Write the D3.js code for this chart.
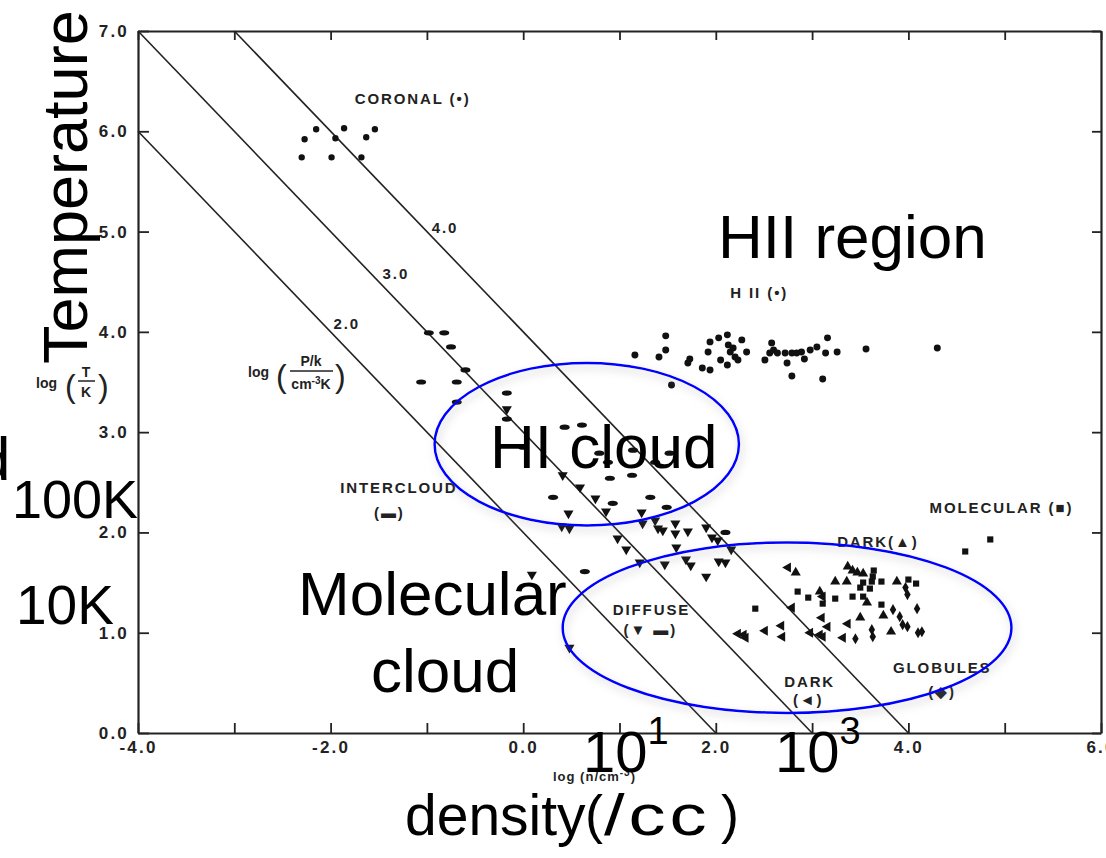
<!DOCTYPE html>
<html>
<head>
<meta charset="utf-8">
<script src="https://cdn.jsdelivr.net/npm/d3@7"></script>
<style>
  html, body { margin: 0; padding: 0; background: #fff; }
  svg { display: block; }
  .scan text { font-family: "Liberation Sans", Arial, sans-serif; font-weight: bold; fill: #222; }
  .big { font-family: "Liberation Sans", Arial, sans-serif; fill: #000; }
</style>
</head>
<body>
<svg id="chart"></svg>
<script>
// ---- data (log n, log T) ----
const xTicks = [-4, -3, -2, -1, 0, 1, 2, 3, 4, 5, 6];
const yTicks = [0, 1, 2, 3, 4, 5, 6, 7];
const isobars = [2, 3, 4];   // log(P/k)

const coronal = [[-2.27,5.92],[-2.15,6.02],[-1.95,5.93],[-1.86,6.03],[-1.63,5.94],[-1.54,6.02],
  [-2.30,5.74],[-1.99,5.74],[-1.68,5.74]];

const hii = [[1.16,3.77],[1.41,3.75],[1.48,3.82],[1.48,3.96],[1.73,3.73],[1.71,3.69],[1.86,3.64],
  [1.94,3.62],[1.92,3.80],[1.94,3.90],[2.03,3.94],[2.12,3.97],[2.13,3.87],[2.05,3.72],[2.12,3.67],
  [2.15,3.80],[2.20,3.75],[2.23,3.72],[2.27,3.92],[2.32,3.80],[2.18,3.84],[2.51,3.72],[2.56,3.79],
  [2.58,3.89],[2.60,3.82],[2.64,3.79],[2.72,3.79],[2.74,3.69],[2.79,3.79],[2.84,3.79],[2.89,3.80],
  [2.92,3.73],[2.98,3.82],[3.05,3.85],[3.16,3.94],[3.14,3.79],[3.26,3.80],[2.79,3.56],[3.11,3.53],
  [1.54,3.47],[3.56,3.83],[4.30,3.84]];

const intercloud = [[-0.98,3.99],[-0.82,3.99],[-0.75,3.85],[-0.60,3.62],[-1.06,3.50],[-0.69,3.50],
  [-0.69,3.30],[-0.17,3.39],[-0.17,3.13],[0.00,2.85],[0.43,3.05],[0.61,3.07]];

const diffuseDash = [[0.79,2.79],[1.14,2.82],[1.52,2.79],[0.88,2.70],[1.37,2.70],[0.90,2.54],
  [1.13,2.57],[0.31,2.35],[0.93,2.29],[1.32,2.35],[1.49,2.25],[2.10,2.00],[0.64,1.61]];

const diffuseTri = [[-0.17,3.23],[0.41,2.57],[0.59,2.45],[0.75,2.34],[0.86,2.21],[0.47,2.19],
  [0.40,2.06],[0.48,2.04],[0.98,1.94],[1.07,1.83],[1.23,2.20],[1.24,2.09],[1.37,2.12],[1.40,2.04],
  [1.45,2.02],[1.58,2.09],[1.58,1.99],[1.71,2.01],[1.59,1.85],[1.90,2.05],[1.96,1.95],[2.02,1.92],
  [2.16,1.83],[1.21,1.70],[1.47,1.68],[1.69,1.73],[1.74,1.67],[2.03,1.71],[2.10,1.70],[1.90,1.56],
  [0.09,1.58],[0.48,0.85]];

const darkUp = [[2.83,1.60],[3.37,1.66],[3.42,1.62],[3.47,1.60],[3.53,1.59],[3.24,1.51],[3.36,1.51],
  [3.88,1.51],[3.08,1.41],[3.57,1.30],[3.74,1.17],[3.50,1.15],[3.82,1.01]];

const darkLeft = [[2.75,1.65],[3.11,1.36],[2.79,1.25],[3.37,1.09],[3.10,1.15],[3.16,1.06],[2.68,1.07],
  [2.51,1.02],[2.69,0.96],[2.23,0.99],[2.29,0.98],[2.31,0.95],[2.98,1.00],[3.08,0.98],[3.11,0.96],
  [3.32,0.95]];

const globules = [[3.97,1.45],[3.99,1.38],[3.84,1.23],[4.09,1.24],[3.91,1.16],[3.94,1.08],[3.99,1.06],
  [3.45,0.94],[3.62,1.03],[3.63,0.96],[4.10,1.00],[4.14,1.01]];

const molecular = [[3.64,1.62],[3.63,1.56],[3.62,1.51],[3.53,1.50],[3.72,1.51],[4.00,1.53],[4.08,1.49],
  [2.85,1.41],[2.96,1.35],[3.24,1.34],[3.11,1.29],[3.42,1.36],[3.50,1.45],[3.60,1.44],[3.53,1.36],
  [2.41,1.24],[3.72,1.28],[4.59,1.81],[4.85,1.93]];

// blue ellipses drawn over the figure: [cx, cy, rx, ry] in data units
const ellipses = [[0.66, 2.88, 1.58, 0.81], [2.74, 1.05, 2.33, 0.85]];

// ---- layout ----
const width = 1106, height = 858;
const svg = d3.select('#chart').attr('width', width).attr('height', height);

const xscale = d3.scaleLinear().domain([-4, 6]).range([138, 1101]);
const yscale = d3.scaleLinear().domain([0, 7]).range([733, 31]);

const defs = svg.append('defs');
const shadow = defs.append('filter').attr('id', 'shadow')
  .attr('x', '-20%').attr('y', '-20%').attr('width', '140%').attr('height', '150%');
shadow.append('feDropShadow').attr('dx', 2).attr('dy', 4).attr('stdDeviation', 4)
  .attr('flood-color', '#888').attr('flood-opacity', 0.45);

const scan = svg.append('g').attr('class', 'scan');

// frame + axes
const fmt = d => d % 2 === 0 ? d.toFixed(1) : '';
const xaxis = scan.append('g').attr('transform', `translate(0, ${yscale(0)})`)
  .call(d3.axisBottom(xscale).tickValues(xTicks).tickFormat(fmt).tickSize(-10).tickSizeOuter(0).tickPadding(4));
const xaxisTop = scan.append('g').attr('transform', `translate(0, ${yscale(7)})`)
  .call(d3.axisTop(xscale).tickValues(xTicks).tickFormat('').tickSize(-9).tickSizeOuter(0));
const yaxis = scan.append('g').attr('transform', `translate(${xscale(-4)}, 0)`)
  .call(d3.axisLeft(yscale).tickValues(yTicks).tickFormat(d => d.toFixed(1)).tickSize(-11).tickSizeOuter(0).tickPadding(9));
const yaxisRight = scan.append('g').attr('transform', `translate(${xscale(6)}, 0)`)
  .call(d3.axisRight(yscale).tickValues(yTicks).tickFormat('').tickSize(-9).tickSizeOuter(0));

[xaxis, xaxisTop, yaxis, yaxisRight].forEach(g => {
  g.attr('font-size', null).attr('font-family', null);
  g.select('.domain').attr('stroke', '#222').attr('stroke-width', 2.2);
  g.selectAll('.tick line').attr('stroke', '#222').attr('stroke-width', 1.8);
  g.selectAll('.tick text')
    .style('font-size', '17px').style('letter-spacing', '2.2px')
    .style('font-family', '"Liberation Sans", Arial, sans-serif').style('font-weight', 'bold').attr('fill', '#222');
});
xaxis.selectAll('.tick text').attr('dy', '0.95em');

// isobars log T = log(P/k) - log n, clipped to the box
scan.selectAll('line.iso')
  .data(isobars)
  .enter()
  .append('line')
  .attr('class', 'iso')
  .attr('x1', p => xscale(Math.max(-4, p - 7)))
  .attr('y1', p => yscale(Math.min(7, p + 4)))
  .attr('x2', p => xscale(p))
  .attr('y2', yscale(0))
  .attr('stroke', '#222')
  .attr('stroke-width', 1.6);

// markers
const markColor = '#111';
const plotSymbols = (data, type, size, rotate) => {
  scan.append('g').selectAll('path')
    .data(data)
    .enter()
    .append('path')
    .attr('d', d3.symbol().type(type).size(size))
    .attr('transform', d => `translate(${xscale(d[0])}, ${yscale(d[1])}) rotate(${rotate})`)
    .attr('fill', markColor);
};
const plotDashes = data => {
  scan.append('g').selectAll('ellipse')
    .data(data)
    .enter()
    .append('ellipse')
    .attr('cx', d => xscale(d[0]))
    .attr('cy', d => yscale(d[1]))
    .attr('rx', 5)
    .attr('ry', 2.6)
    .attr('fill', markColor);
};

plotSymbols(coronal, d3.symbolCircle, 32, 0);
plotSymbols(hii, d3.symbolCircle, 38, 0);
plotDashes(intercloud);
plotDashes(diffuseDash);
plotSymbols(diffuseTri, d3.symbolTriangle, 44, 180);
plotSymbols(darkUp, d3.symbolTriangle, 44, 0);
plotSymbols(darkLeft, d3.symbolTriangle, 44, -90);
plotSymbols(globules, d3.symbolDiamond, 36, 0);
plotSymbols(molecular, d3.symbolSquare, 38, 0);

// labels printed in the original figure (data coordinates)
const scanLabels = [
  {t: 'CORONAL (•)', x: -1.75, y: 6.27, a: 'start'},
  {t: '4.0', x: -0.95, y: 4.99, a: 'start'},
  {t: '3.0', x: -1.46, y: 4.53, a: 'start'},
  {t: '2.0', x: -1.97, y: 4.03, a: 'start'},
  {t: 'H II (•)', x: 2.15, y: 4.34, a: 'start'},
  {t: 'INTERCLOUD', x: -1.90, y: 2.39, a: 'start'},
  {t: '(▬)', x: -1.39, y: 2.14, a: 'middle'},
  {t: 'DIFFUSE', x: 0.93, y: 1.18, a: 'start'},
  {t: '(▼ ▬)', x: 1.32, y: 0.98, a: 'middle'},
  {t: 'DARK(▲)', x: 3.26, y: 1.85, a: 'start'},
  {t: 'MOLECULAR (■)', x: 4.22, y: 2.19, a: 'start'},
  {t: 'DARK', x: 2.71, y: 0.46, a: 'start'},
  {t: '(◄)', x: 2.96, y: 0.28, a: 'middle'},
  {t: 'GLOBULES', x: 3.84, y: 0.60, a: 'start'},
  {t: '(◆)', x: 4.35, y: 0.36, a: 'middle'}
];
scan.append('g').selectAll('text')
  .data(scanLabels)
  .enter()
  .append('text')
  .attr('x', d => xscale(d.x))
  .attr('y', d => yscale(d.y))
  .attr('text-anchor', d => d.a)
  .style('font-size', '15px')
  .style('letter-spacing', '1.9px')
  .text(d => d.t);

// log(P/k / cm^-3 K) next to the isobars
const pk = scan.append('g').style('font-size', '14px');
pk.append('text').attr('x', 248).attr('y', 377).text('log');
pk.append('text').attr('x', 276).attr('y', 387).style('font-size', '32px').style('font-weight', 'normal').text('(');
pk.append('text').attr('x', 311).attr('y', 366).attr('text-anchor', 'middle').text('P/k');
pk.append('line').attr('x1', 290).attr('x2', 333).attr('y1', 371).attr('y2', 371).attr('stroke', '#222').attr('stroke-width', 1.5);
pk.append('text').attr('x', 311).attr('y', 389).attr('text-anchor', 'middle')
  .html('cm<tspan dy="-5" style="font-size:10px">-3</tspan><tspan dy="5">K</tspan>');
pk.append('text').attr('x', 335).attr('y', 387).style('font-size', '32px').style('font-weight', 'normal').text(')');

// log(T/K) axis title
const tk = scan.append('g').style('font-size', '14px');
tk.append('text').attr('x', 36).attr('y', 388).text('log');
tk.append('text').attr('x', 65).attr('y', 397).style('font-size', '32px').style('font-weight', 'normal').text('(');
tk.append('text').attr('x', 86).attr('y', 377).attr('text-anchor', 'middle').text('T');
tk.append('line').attr('x1', 78).attr('x2', 95).attr('y1', 381).attr('y2', 381).attr('stroke', '#222').attr('stroke-width', 1.5);
tk.append('text').attr('x', 86).attr('y', 397).attr('text-anchor', 'middle').text('K');
tk.append('text').attr('x', 98).attr('y', 397).style('font-size', '32px').style('font-weight', 'normal').text(')');

// log(n/cm^-3) axis title
scan.append('text').attr('x', 553).attr('y', 781).style('font-size', '13px').style('letter-spacing', '1px')
  .html('log (n/cm<tspan dy="-5" style="font-size:10px">-3</tspan><tspan dy="5">)</tspan>');

// ---- slide overlay: ellipses and big text ----
svg.append('g').selectAll('ellipse')
  .data(ellipses)
  .enter()
  .append('ellipse')
  .attr('cx', d => xscale(d[0]))
  .attr('cy', d => yscale(d[1]))
  .attr('rx', d => xscale(d[2]) - xscale(0))
  .attr('ry', d => yscale(0) - yscale(d[3]))
  .attr('fill', 'none')
  .attr('stroke', '#0000ff')
  .attr('stroke-width', 2.5)
  .attr('filter', 'url(#shadow)');

const big = svg.append('g').attr('class', 'big');
const bigText = (x, y, size, str, anchor) => big.append('text')
  .attr('x', x).attr('y', y).attr('text-anchor', anchor || 'start')
  .style('font-size', size + 'px').text(str);

big.append('text')
  .attr('transform', 'translate(87, 364) rotate(-90)')
  .style('font-size', '63px')
  .text('Temperature');
bigText(718, 258, 62, 'HII region');
bigText(490, 468, 62, 'HI cloud');
bigText(298, 615, 62, 'Molecular');
bigText(445, 692, 62, 'cloud', 'middle');
bigText(-24, 480, 62, 'd');
bigText(12, 518, 54, '100K');
bigText(16, 624, 55, '10K');

const power = (x, base, exp) => {
  const t = big.append('text').attr('x', x).attr('y', 772).style('font-size', '58px');
  t.append('tspan').text(base);
  t.append('tspan').attr('dy', -28).style('font-size', '38px').text(exp);
};
power(583, '10', '1');
power(775, '10', '3');

// density(/cc) — the parenthetical is set wider on the slide
bigText(405, 835, 57, 'density');
bigText(585, 833, 54, '(');
big.append('text')
  .attr('transform', 'translate(604, 835) scale(1.3, 1)')
  .style('font-size', '57px')
  .style('letter-spacing', '3px')
  .text('/cc');
bigText(721, 833, 54, ')');
</script>
</body>
</html>
